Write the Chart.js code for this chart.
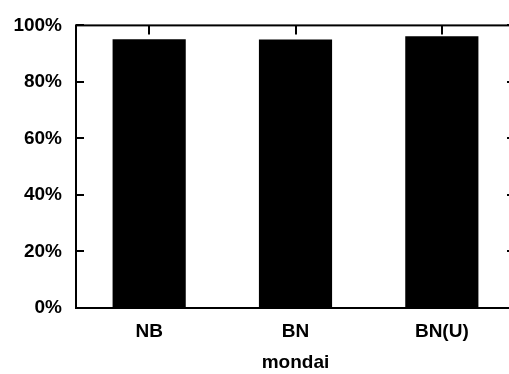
<!DOCTYPE html>
<html>
<head>
<meta charset="utf-8">
<script src="https://cdn.jsdelivr.net/npm/chart.js@4"></script>
<style>
	html, body { margin: 0; padding: 0; background: #fff; overflow: hidden; }
	#wrap { position: absolute; left: 0; top: 0; width: 520px; height: 374px; }
</style>
</head>
<body>
<div id="wrap"><canvas id="barChart"></canvas></div>
<script>
// data
var categories = ["NB", "BN", "BN(U)"];
var values = [95.1, 95.0, 96.2];
var yTicks = [0, 20, 40, 60, 80, 100];
var xTitle = "mondai";

Chart.defaults.font.family = "'Liberation Sans', Arial, sans-serif";
Chart.defaults.font.size = 19;
Chart.defaults.font.weight = "bold";
Chart.defaults.color = "#000";

// frame + inward tick marks, like the old gnuplot style
var frameTicks = {
	id: "frameTicks",
	afterDatasetsDraw: function (chart) {
		var ctx = chart.ctx;
		var a = chart.chartArea;
		var xs = chart.scales.x;
		var ys = chart.scales.y;
		ctx.save();
		ctx.strokeStyle = "#000";
		ctx.lineWidth = 2;
		ctx.strokeRect(a.left, a.top, a.right - a.left, a.bottom - a.top);
		ctx.beginPath();
		yTicks.forEach(function (v) {
			var y = Math.round(ys.getPixelForValue(v));
			ctx.moveTo(a.left, y);
			ctx.lineTo(a.left + 8, y);
			ctx.moveTo(a.right, y);
			ctx.lineTo(a.right - 8, y);
		});
		categories.forEach(function (c, i) {
			var x = Math.round(xs.getPixelForValue(i));
			ctx.moveTo(x, a.top);
			ctx.lineTo(x, a.top + 9);
			ctx.moveTo(x, a.bottom);
			ctx.lineTo(x, a.bottom - 9);
		});
		ctx.stroke();
		ctx.restore();
	},
};

var el = document.getElementById("barChart");
var myBarChart = new Chart(el, {
	type: "bar",
	data: {
		labels: categories,
		datasets: [
			{
				data: values,
				backgroundColor: "#000",
				borderWidth: 0,
				barPercentage: 0.5,
				categoryPercentage: 1,
			},
		],
	},
	options: {
		responsive: true,
		maintainAspectRatio: false,
		animation: false,
		layout: { padding: { left: 0, top: 22, right: 5, bottom: 0 } },
		plugins: {
			legend: { display: false },
			tooltip: { enabled: false },
		},
		scales: {
			x: {
				offset: true,
				grid: { display: false, drawTicks: false },
				border: { display: false },
				ticks: { padding: 12 },
				title: { display: true, text: xTitle, padding: { top: 2, bottom: 0 } },
				afterFit: function (scale) { scale.height = 66; },
			},
			y: {
				min: 0,
				max: 100,
				afterBuildTicks: function (scale) {
					scale.ticks = yTicks.map(function (v) { return { value: v }; });
				},
				ticks: {
					padding: 14,
					callback: function (v) { return v + "%"; },
				},
				grid: { display: false, drawTicks: false },
				border: { display: false },
				afterFit: function (scale) { scale.width = 76; },
			},
		},
	},
	plugins: [frameTicks],
});
</script>
</body>
</html>
